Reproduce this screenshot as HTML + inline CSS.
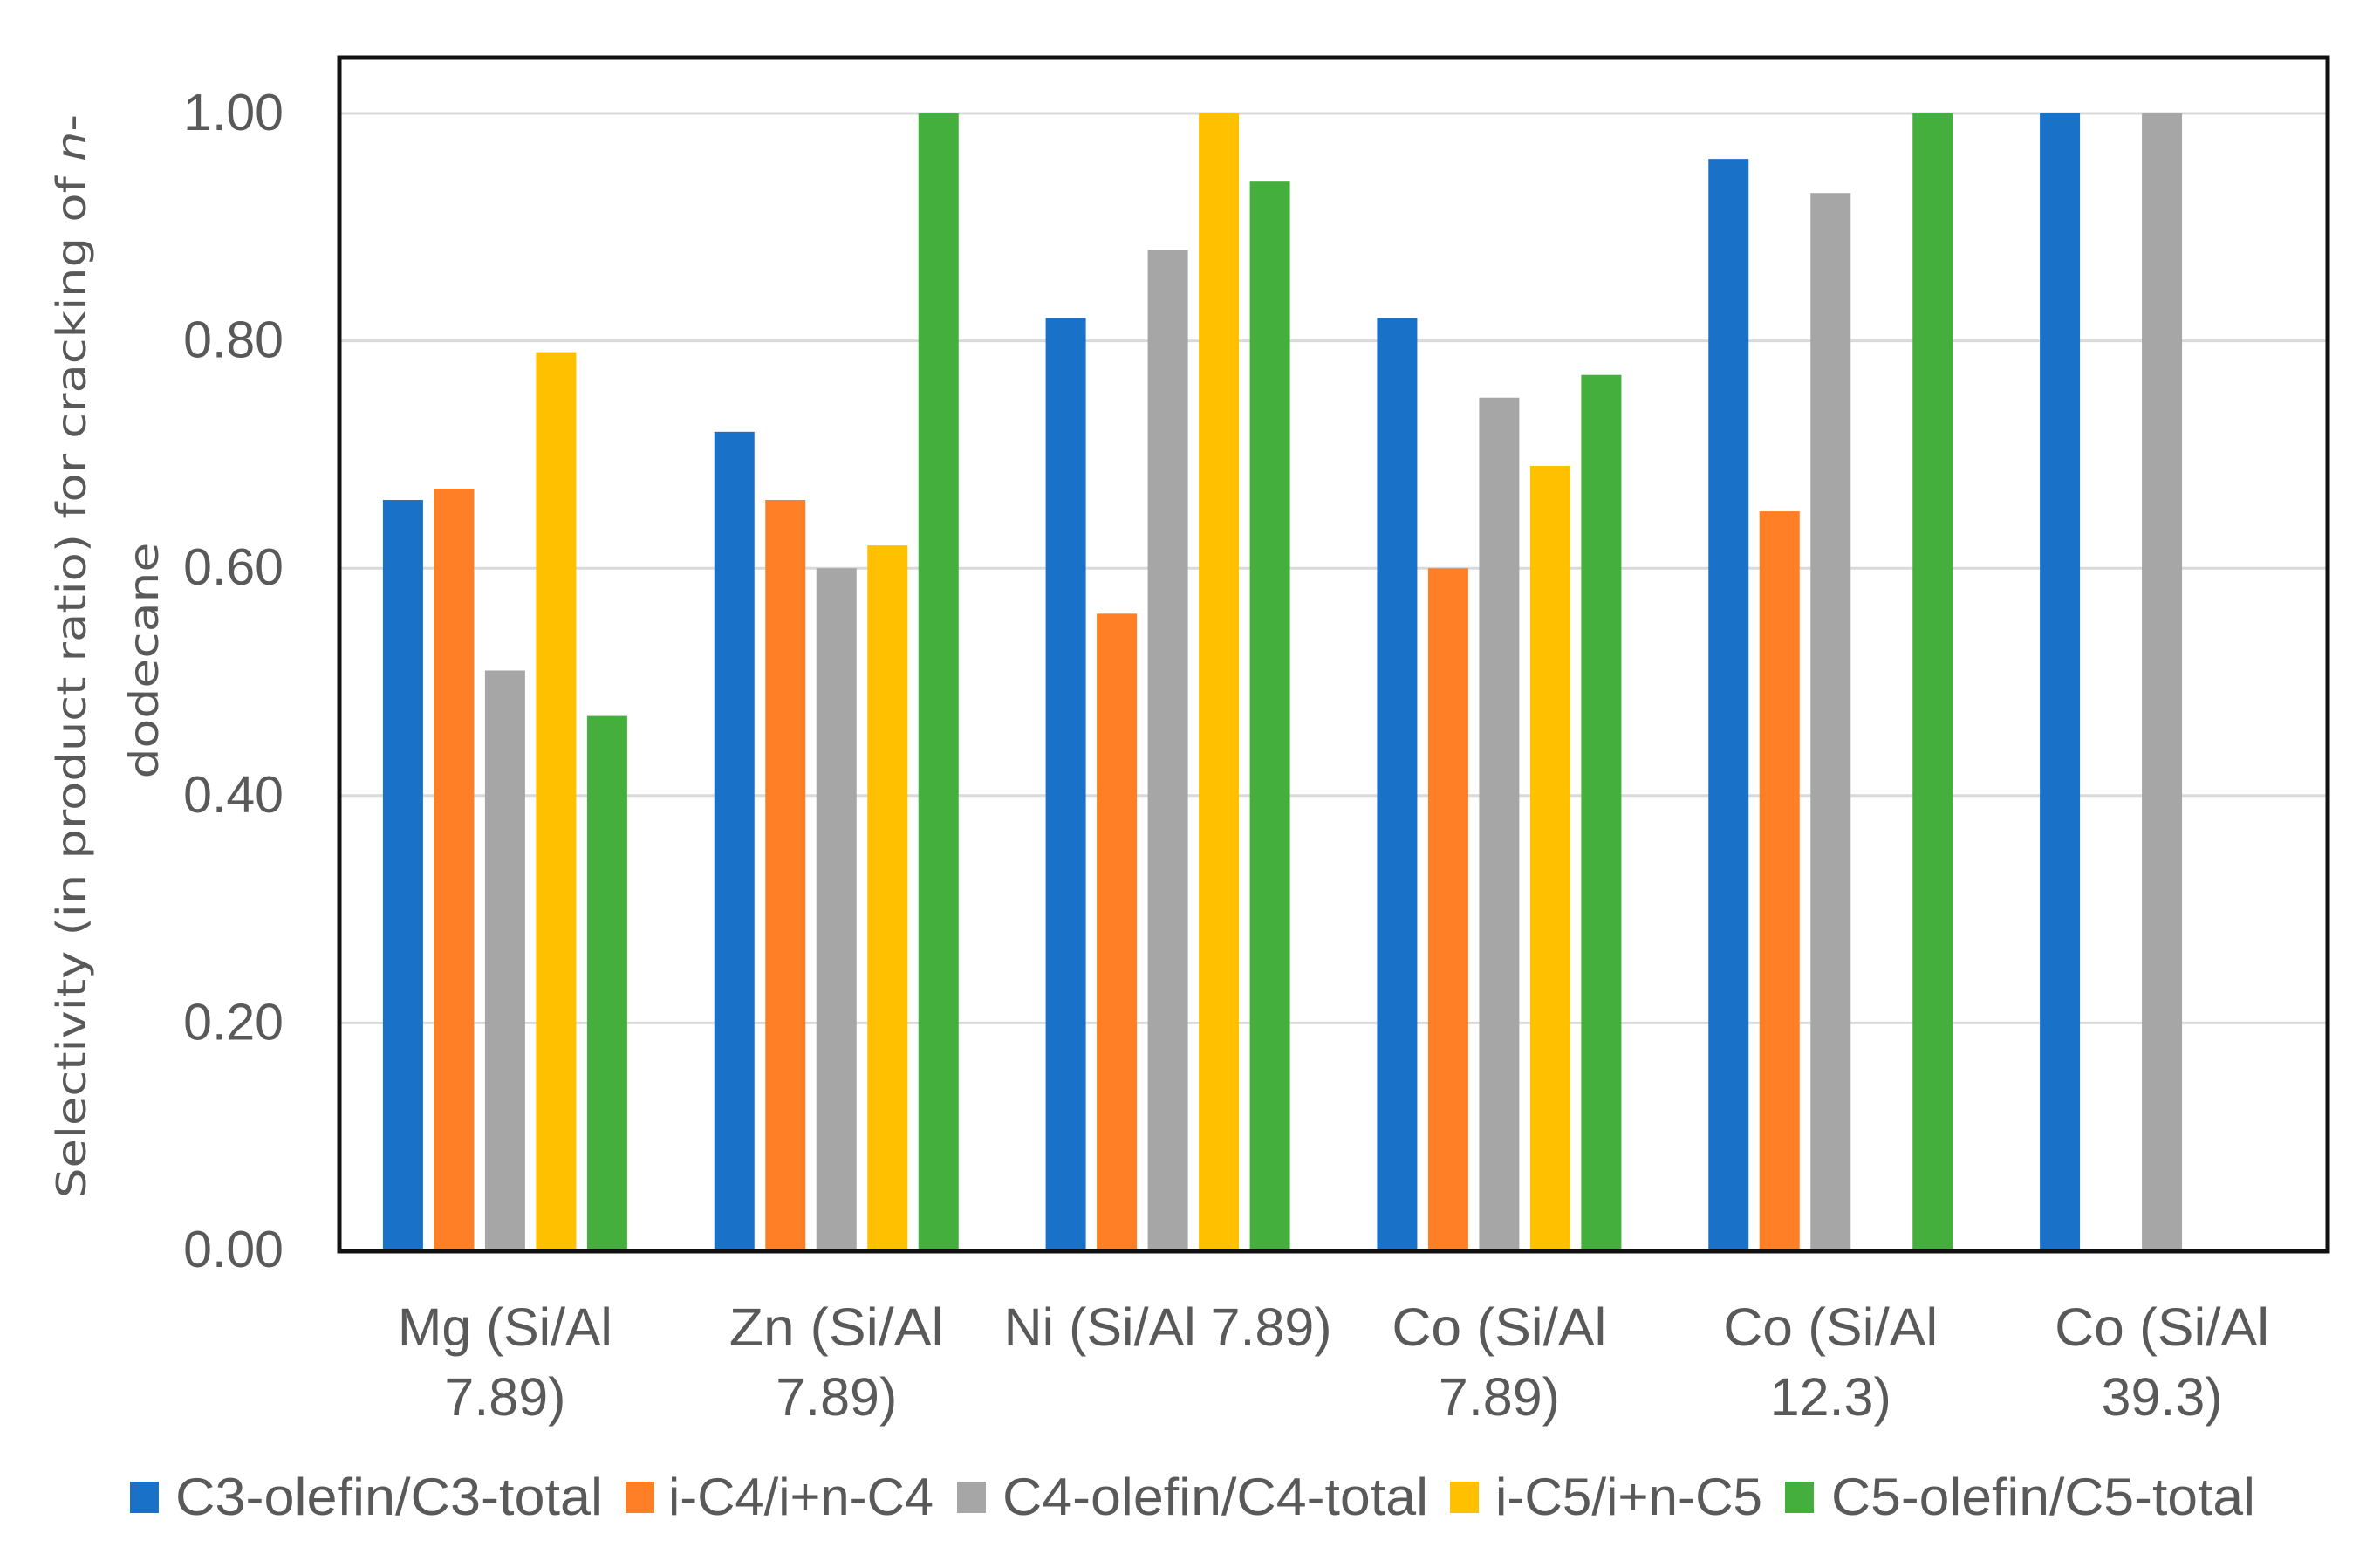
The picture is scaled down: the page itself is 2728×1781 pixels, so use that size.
<!DOCTYPE html>
<html><head><meta charset="utf-8"><style>
html,body{margin:0;padding:0;background:#fff;}
svg{display:block;}
text{font-family:"Liberation Sans",sans-serif;fill:#595959;}
</style></head><body>
<svg id="chart" width="2728" height="1781" viewBox="0 0 2728 1781" xmlns="http://www.w3.org/2000/svg">
<g id="grid"></g>
<g id="bars"></g>
<rect x="389" y="66" width="2279" height="1368" fill="none" stroke="#111" stroke-width="5"/>
<g id="yticks"></g>
<g id="xlabels"></g>
<g>
<text transform="translate(98,752) rotate(-90)" text-anchor="middle" style="font-family:'DejaVu Sans',sans-serif" font-size="46" textLength="1242" lengthAdjust="spacingAndGlyphs">Selectivity (in product ratio) for cracking of <tspan font-style="italic">n</tspan>-</text>
<text transform="translate(181,757) rotate(-90)" text-anchor="middle" style="font-family:'DejaVu Sans',sans-serif" font-size="46" textLength="271" lengthAdjust="spacingAndGlyphs">dodecane</text>
</g>
<g id="legend"></g>
</svg>
<script>
const categories = [["Mg (Si/Al","7.89)"],["Zn (Si/Al","7.89)"],["Ni (Si/Al 7.89)"],["Co (Si/Al","7.89)"],["Co (Si/Al","12.3)"],["Co (Si/Al","39.3)"]];
const seriesNames = ["C3-olefin/C3-total","i-C4/i+n-C4","C4-olefin/C4-total","i-C5/i+n-C5","C5-olefin/C5-total"];
const c3Olefin = [0.66,0.72,0.82,0.82,0.96,1.00];
const iC4 = [0.67,0.66,0.56,0.60,0.65,null];
const c4Olefin = [0.51,0.60,0.88,0.75,0.93,1.00];
const iC5 = [0.79,0.62,1.00,0.69,null,null];
const c5Olefin = [0.47,1.00,0.94,0.77,1.00,null];
const yTicks = [0,0.2,0.4,0.6,0.8,1.0];
const yTickLabels = ["0.00","0.20","0.40","0.60","0.80","1.00"];

const series = [c3Olefin,iC4,c4Olefin,iC5,c5Olefin];
const colors = ["#1a72c8","#ff7f27","#a6a6a6","#ffc000","#44af3c"];
const NS = "http://www.w3.org/2000/svg";
const L=389, R=2668, Y0=1433, Y1=130;
const y = v => Y0 - (Y0 - Y1) * v;
const groupW = (R-L)/categories.length;
const pitch = 58.5, barW = 46;
const x = (gi, si) => L + groupW*(gi+0.5) + (si-2)*pitch - barW/2;
function mk(tag, attrs, parent){const e=document.createElementNS(NS,tag);for(const k in attrs)e.setAttribute(k,attrs[k]);parent.appendChild(e);return e;}

const grid=document.getElementById('grid'), yt=document.getElementById('yticks');
yTicks.forEach((t,i)=>{
  if(t>0){const g=mk('line',{x1:L,x2:R,y1:y(t),y2:y(t),stroke:'#d9d9d9','stroke-width':3},grid);
  
  }
  const tx=mk('text',{x:325,y:y(t)+19,'text-anchor':'end','font-size':59},yt);
  tx.textContent=yTickLabels[i];
  
  
});

const bars=document.getElementById('bars');
series.forEach((s,si)=>s.forEach((v,gi)=>{
  if(v==null) return;
  const r=mk('rect',{x:x(gi,si),y:y(v),width:barW,height:Y0-y(v),fill:colors[si]},bars);
  
  
}));

const xl=document.getElementById('xlabels');
categories.forEach((lines,gi)=>{
  const cx=L+groupW*(gi+0.5);
  lines.forEach((ln,li)=>{
    const t=mk('text',{x:cx,y:1542+li*80,'text-anchor':'middle','font-size':61},xl);
    if(ln.length>12){ t.setAttribute('textLength',376); t.setAttribute('lengthAdjust','spacingAndGlyphs'); }
    else if(li===0){ t.setAttribute('textLength',246); t.setAttribute('lengthAdjust','spacingAndGlyphs'); }
    t.textContent=ln;
    
    
  });
});

const leg=document.getElementById('legend');
const legSq=[149,717,1097,1662,2046];
const legTx=[[201,490],[766,304],[1149,488],[1714,306],[2099,486]];
seriesNames.forEach((n,i)=>{
  const r=mk('rect',{x:legSq[i],y:1698,width:33,height:36,fill:colors[i]},leg);
  
  
  const t=mk('text',{x:legTx[i][0],y:1736,'font-size':60,textLength:legTx[i][1],lengthAdjust:'spacingAndGlyphs'},leg);
  t.textContent=n;
  
  
});
</script>
</body></html>
